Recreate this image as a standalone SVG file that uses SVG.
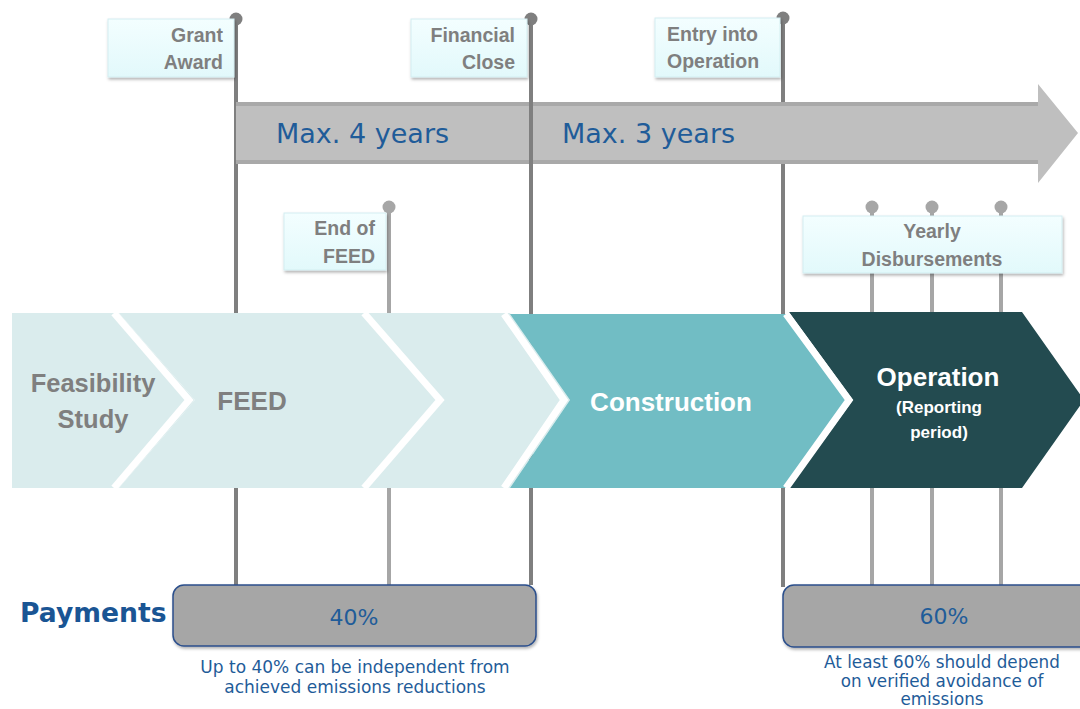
<svg xmlns="http://www.w3.org/2000/svg" width="1080" height="709" viewBox="0 0 1080 709">
<defs>
<linearGradient id="lbl" x1="0" y1="0" x2="0" y2="1">
<stop offset="0" stop-color="#f3feff"/>
<stop offset="1" stop-color="#e2f9fb"/>
</linearGradient>
<filter id="sh" x="-10%" y="-10%" width="130%" height="140%">
<feDropShadow dx="1" dy="2" stdDeviation="1.5" flood-color="#000" flood-opacity="0.3"/>
</filter>
<style>
.lbl{fill:url(#lbl);stroke:#d3eef1;stroke-width:1;filter:url(#sh)}
.lt{font-family:"Liberation Sans",Arial,sans-serif;font-weight:bold;font-size:19.5px;fill:#7f7f7f}
.dk{stroke:#7f7f7f;stroke-width:4}
.li{stroke:#a6a6a6;stroke-width:4}
.dkd{fill:#7f7f7f}
.lid{fill:#a6a6a6}
.sep{fill:none;stroke:#fff;stroke-width:7;stroke-linejoin:miter;stroke-linecap:butt}
.ph{font-family:"Liberation Sans",Arial,sans-serif;font-weight:bold;text-anchor:middle}
.blue{font-family:"DejaVu Sans",Verdana,sans-serif;fill:#1f5c99}
.pay{fill:#a6a6a6;stroke:#2c4f8c;stroke-width:1.5;filter:url(#sh)}
</style>
</defs>
<rect width="1080" height="709" fill="#fff"/>

<g id="connectors">
<line class="dk" x1="236" y1="19" x2="236" y2="585"/>
<line class="dk" x1="783" y1="19" x2="783" y2="587"/>
<line class="li" x1="389" y1="207" x2="389" y2="585"/>
<line class="li" x1="872" y1="207" x2="872" y2="585"/>
<line class="li" x1="932" y1="207" x2="932" y2="585"/>
<line class="li" x1="1001" y1="207" x2="1001" y2="585"/>
</g>

<g id="timeline-arrow">
<polygon points="236,103 1038,103 1038,84 1078,133 1038,183 1038,163 236,163" fill="#bfbfbf"/>
<rect x="236" y="102" width="802" height="4" fill="#a9a9a9"/>
<rect x="236" y="160" width="802" height="4" fill="#a9a9a9"/>
<text class="blue" x="276" y="143" font-size="27">Max. 4 years</text>
<text class="blue" x="562" y="143" font-size="27">Max. 3 years</text>
</g>

<g id="financial-close-line">
<line class="dk" x1="531" y1="19" x2="531" y2="585"/>
</g>

<g id="milestone-dots">
<circle class="dkd" cx="236" cy="19" r="6.5"/>
<circle class="dkd" cx="531" cy="19" r="6.5"/>
<circle class="dkd" cx="783" cy="18" r="6.5"/>
<circle class="lid" cx="389" cy="207" r="6.5"/>
<circle class="lid" cx="872" cy="207" r="6.5"/>
<circle class="lid" cx="932" cy="207" r="6.5"/>
<circle class="lid" cx="1001" cy="207" r="6.5"/>
</g>

<g id="grant-award">
<rect class="lbl" x="108" y="19" width="126" height="58"/>
<text class="lt" text-anchor="end" x="223" y="42">Grant</text>
<text class="lt" text-anchor="end" x="223" y="69">Award</text>
</g>
<g id="financial-close">
<rect class="lbl" x="411" y="19" width="116" height="58"/>
<text class="lt" text-anchor="end" x="515" y="42">Financial</text>
<text class="lt" text-anchor="end" x="515" y="69">Close</text>
</g>
<g id="entry-into-operation">
<rect class="lbl" x="655" y="18" width="125" height="59"/>
<text class="lt" x="667" y="41">Entry into</text>
<text class="lt" x="667" y="68">Operation</text>
</g>
<g id="end-of-feed">
<rect class="lbl" x="284" y="213" width="102" height="57"/>
<text class="lt" text-anchor="end" x="375" y="235">End of</text>
<text class="lt" text-anchor="end" x="375" y="263">FEED</text>
</g>
<g id="yearly-disbursements">
<rect class="lbl" x="803" y="216" width="259" height="57"/>
<text class="lt" text-anchor="middle" x="932" y="238">Yearly</text>
<text class="lt" text-anchor="middle" x="932" y="266">Disbursements</text>
</g>

<g id="phase-extra">
<polygon fill="#daeced" points="368,313 510,313 570,400 510,488 368,488 444,400"/>
</g>
<g id="phase-feed">
<polygon fill="#daeced" points="119,313 370,313 446,400 370,488 119,488 195,400"/>
<text class="ph" x="252" y="410" font-size="26" fill="#7f7f7f">FEED</text>
</g>
<g id="phase-feasibility">
<polygon fill="#daeced" points="12,313 119,313 195,400 119,488 12,488"/>
<text class="ph" x="93" y="392" font-size="25.5" fill="#7f7f7f">Feasibility</text>
<text class="ph" x="93" y="428" font-size="25.5" fill="#7f7f7f">Study</text>
</g>
<g id="phase-construction">
<polygon fill="#71bdc4" points="510,314 789,314 853,400 789,488 510,488 570,400"/>
<text class="ph" x="671" y="411" font-size="26" fill="#fff">Construction</text>
</g>
<g id="phase-operation">
<polygon fill="#234b50" points="789,312 1022,312 1084,400 1022,488 789,488 853,400"/>
<text class="ph" x="938" y="386" font-size="26" fill="#fff">Operation</text>
<text class="ph" x="939" y="413" font-size="17" fill="#fff">(Reporting</text>
<text class="ph" x="939" y="438" font-size="17" fill="#fff">period)</text>
</g>
<g id="phase-separators">
<polyline class="sep" points="114,313 189,400 114,488"/>
<polyline class="sep" points="364,313 440,400 364,488"/>
<polyline class="sep" points="504,314 564,400 504,488"/>
<polyline class="sep" points="786,314 849,400 786,488"/>
</g>

<g id="payments-label">
<text x="20" y="622" font-family="DejaVu Sans,Verdana,sans-serif" font-weight="bold" font-size="26.6" fill="#1a5594">Payments</text>
</g>
<g id="payment-40">
<rect class="pay" x="173" y="585" width="363" height="61" rx="11"/>
<text class="blue" x="354" y="625" font-size="22" text-anchor="middle">40%</text>
<text class="blue" x="355" y="673" font-size="17" text-anchor="middle">Up to 40% can be independent from</text>
<text class="blue" x="355" y="693" font-size="17" text-anchor="middle">achieved emissions reductions</text>
</g>
<g id="payment-60">
<rect class="pay" x="783" y="585" width="310" height="62" rx="11"/>
<text class="blue" x="944" y="624" font-size="22" text-anchor="middle">60%</text>
<text class="blue" x="942" y="668" font-size="16.8" text-anchor="middle">At least 60% should depend</text>
<text class="blue" x="942" y="687" font-size="16.8" text-anchor="middle">on verified avoidance of</text>
<text class="blue" x="942" y="705" font-size="16.8" text-anchor="middle">emissions</text>
</g>
</svg>
